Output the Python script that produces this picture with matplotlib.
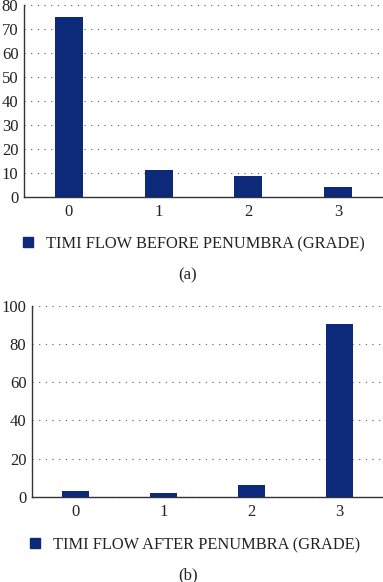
import matplotlib
matplotlib.use("Agg")
import matplotlib.pyplot as plt
from matplotlib.patches import Patch
import numpy as np

grades = ["0", "1", "2", "3"]
before_values = [75.3, 11.3, 8.8, 3.9]
after_values = [2.8, 1.8, 6.0, 90.4]
before_label = "TIMI FLOW BEFORE PENUMBRA (GRADE)"
after_label = "TIMI FLOW AFTER PENUMBRA (GRADE)"
before_ticks = [0, 10, 20, 30, 40, 50, 60, 70, 80]
after_ticks = [0, 20, 40, 60, 80, 100]

BAR = "#0d2a7a"
W, H = 383, 582
plt.rcParams["font.family"] = ["Liberation Serif", "DejaVu Serif"]

fig = plt.figure(figsize=(W / 100, H / 100), dpi=100)

def panel(rect, values, ticks, label, caption, leg_y, cap_y, leg_x):
    ax = fig.add_axes(rect)
    x = np.arange(len(grades))
    ax.bar(x, values, width=0.31, color=BAR, zorder=3)
    ax.set_xlim(-0.5, len(grades) - 0.5)
    ax.set_ylim(ticks[0], ticks[-1])
    ax.set_yticks(ticks)
    ax.set_xticks(x)
    ax.set_xticklabels(grades)
    ax.tick_params(length=0, labelsize=12, colors="#222222", pad=4)
    ax.tick_params(axis="x", pad=5)
    for s in ["top", "right"]:
        ax.spines[s].set_visible(False)
    for s in ["left", "bottom"]:
        ax.spines[s].set_color("#333333")
        ax.spines[s].set_linewidth(1.0)
    ax.yaxis.grid(True, linestyle=(0, (1, 5)), color="#555555", linewidth=0.8, zorder=0)
    ax.set_axisbelow(True)
    fig.legend(handles=[Patch(color=BAR, label=label)], loc="center left",
               bbox_to_anchor=(leg_x / W, 1 - leg_y / H), frameon=False,
               fontsize=11.8, handlelength=0.6, handleheight=0.6, handletextpad=0.8,
               borderpad=0, borderaxespad=0, labelcolor="#222222")
    fig.text(188 / W, 1 - cap_y / H, caption, ha="center", va="center",
             fontsize=12, color="#222222")
    return ax

panel([24 / W, (H - 196.7) / H, (W - 24) / W, 191.3 / H], before_values, before_ticks,
      before_label, "(a)", 244, 275, 23)
panel([32 / W, (H - 496.7) / H, (W - 32) / W, 190.7 / H], after_values, after_ticks,
      after_label, "(b)", 545, 575, 30)

fig.savefig("out.png", dpi=100)
